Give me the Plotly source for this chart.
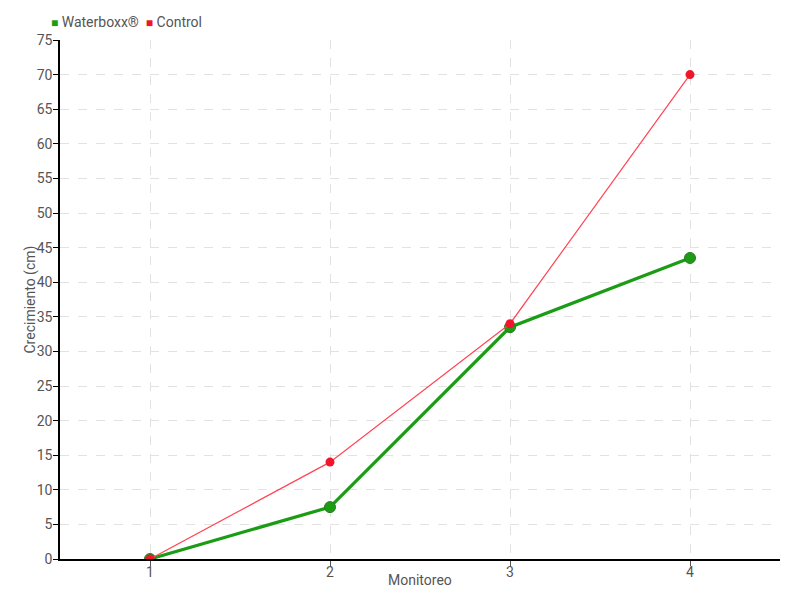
import plotly.graph_objects as go

monitoreo = [1, 2, 3, 4]
waterboxx = [0, 7.5, 33.5, 43.5]
control = [0, 14, 34, 70]

y_ticks = list(range(0, 80, 5))

GREEN = "#1a9c14"
RED = "#f0152a"
FONT = "Roboto, Liberation Sans, sans-serif"

fig = go.Figure()
fig.add_trace(
    go.Scatter(
        x=monitoreo,
        y=waterboxx,
        mode="lines+markers",
        name="Waterboxx®",
        line=dict(color=GREEN, width=3.2),
        marker=dict(color=GREEN, size=11, line=dict(color="#2a7a22", width=1)),
    )
)
fig.add_trace(
    go.Scatter(
        x=monitoreo,
        y=control,
        mode="lines+markers",
        name="Control",
        line=dict(color="#ff4455", width=1.2),
        marker=dict(color=RED, size=9),
    )
)

# legend drawn as a text line with small square swatches
fig.add_annotation(
    text=(
        f'<span style="color:{GREEN};font-size:12px">■</span> Waterboxx®  '
        f'<span style="color:{RED};font-size:12px">■</span> Control'
    ),
    xref="paper",
    yref="paper",
    x=-0.015,
    y=1.0,
    yshift=18,
    xanchor="left",
    yanchor="middle",
    showarrow=False,
    font=dict(size=14, color="#555555"),
)
fig.add_annotation(
    text="Monitoreo",
    xref="paper",
    yref="paper",
    x=0.5,
    y=0,
    yshift=-21,
    xanchor="center",
    yanchor="middle",
    showarrow=False,
    font=dict(size=14, color="#555555"),
)
fig.add_annotation(
    text="Crecimiento (cm)",
    xref="paper",
    yref="paper",
    x=0,
    y=0.5,
    xshift=-30,
    textangle=-90,
    xanchor="center",
    yanchor="middle",
    showarrow=False,
    font=dict(size=14, color="#555555"),
)

# the page body adds an 8px offset, so the figure is 792x592
fig.update_layout(
    width=792,
    height=592,
    margin=dict(l=52, r=20, t=32, b=41, autoexpand=False),
    plot_bgcolor="white",
    paper_bgcolor="white",
    font=dict(family=FONT, color="#555555", size=14),
    showlegend=False,
    xaxis=dict(
        range=[0.5, 4.5],
        tickvals=monitoreo,
        ticktext=[str(v) for v in monitoreo],
        showgrid=True,
        gridcolor="#e2e2e2",
        griddash="dash",
        showline=True,
        linecolor="black",
        linewidth=1.5,
        ticks="outside",
        ticklen=5,
        tickcolor="#555555",
        ticklabelstandoff=-6,
        zeroline=False,
    ),
    yaxis=dict(
        range=[0, 75],
        tickvals=y_ticks,
        showgrid=True,
        gridcolor="#e2e2e2",
        griddash="dash",
        showline=True,
        linecolor="black",
        linewidth=1.5,
        ticks="outside",
        ticklen=5,
        tickcolor="black",
        ticklabelstandoff=-2,
        zeroline=False,
    ),
)

fig.write_html("out.html")
